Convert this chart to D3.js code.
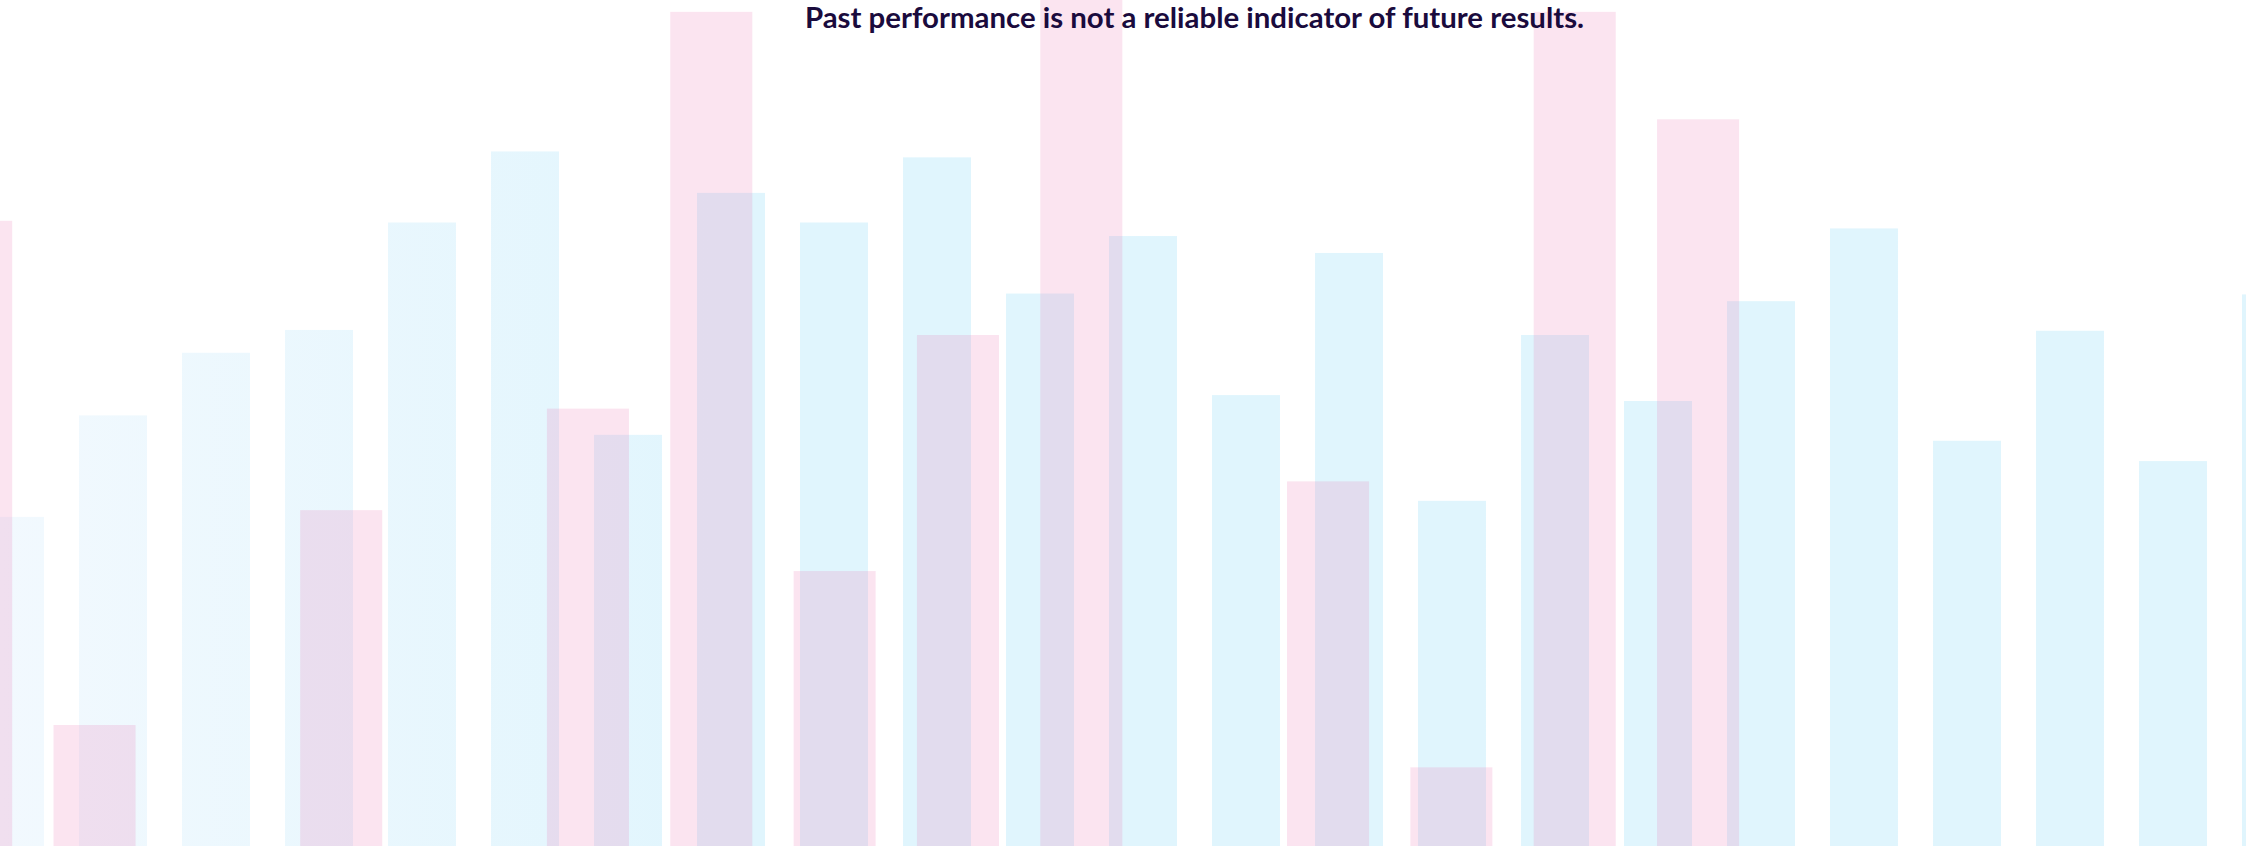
<!DOCTYPE html>
<html>
<head>
<meta charset="utf-8">
<script src="https://cdn.jsdelivr.net/npm/d3@7"></script>
<style>
  html, body { margin: 0; padding: 0; background: #fff; overflow: hidden; }
  svg { display: block; }
</style>
</head>
<body>
<div id="chart"></div>
<script>
// bar heights, as % of the chart height
const blueValues = [38.9, 50.9, 58.3, 61.0, 73.7, 82.1, 48.6, 77.2, 73.7, 81.4, 65.3, 72.1,
                    53.3, 70.1, 40.8, 60.4, 52.6, 64.4, 73.0, 47.9, 60.9, 45.5, 65.2];
const pinkValues = [73.9, 14.3, 0, 39.7, 0, 51.7, 98.6, 32.5, 60.4, 103, 0, 43.1,
                    9.3, 98.6, 85.9, 0, 0, 0, 0];
const caption = "Past performance is not a reliable indicator of future results.";

document.addEventListener("DOMContentLoaded", function () {
    const width = 2246,
          height = 846;

    const svg = d3.select("#chart").append("svg")
        .attr("width", width)
        .attr("height", height)
        .attr("viewBox", `0 0 ${width} ${height}`);

    // blue bars fade out a little towards the left edge
    const grad = svg.append("defs").append("linearGradient")
        .attr("id", "blueFade")
        .attr("gradientUnits", "userSpaceOnUse")
        .attr("x1", 0).attr("x2", 750)
        .attr("y1", 0).attr("y2", 0);
    grad.append("stop").attr("offset", 0).attr("stop-color", "#f2f9fe");
    grad.append("stop").attr("offset", 1).attr("stop-color", "#e0f5fd");

    const y = d3.scaleLinear()
        .domain([0, 100])
        .range([height, 0]);

    const xBlue = d3.scaleBand()
        .domain(d3.range(blueValues.length))
        .range([-41.5, -41.5 + blueValues.length * 103])
        .paddingInner(0.34)
        .paddingOuter(0.17);

    const xPink = d3.scaleBand()
        .domain(d3.range(pinkValues.length))
        .range([-90.5, -90.5 + pinkValues.length * 123.35])
        .paddingInner(0.335)
        .paddingOuter(0.1675);

    svg.append("g")
        .selectAll("rect")
        .data(blueValues)
        .join("rect")
        .attr("x", (d, i) => xBlue(i))
        .attr("width", xBlue.bandwidth())
        .attr("y", d => y(d))
        .attr("height", d => height - y(d))
        .attr("fill", "url(#blueFade)");

    svg.append("g")
        .attr("fill-opacity", 0.19)
        .selectAll("rect")
        .data(pinkValues)
        .join("rect")
        .attr("x", (d, i) => xPink(i))
        .attr("width", xPink.bandwidth())
        .attr("y", d => y(d))
        .attr("height", d => height - y(d))
        .attr("fill", "#ea71b0");

    svg.append("text")
        .attr("x", 1194.5)
        .attr("y", 28)
        .attr("text-anchor", "middle")
        .style("font-family", "Lato, 'Open Sans', sans-serif")
        .style("font-weight", 700)
        .style("font-size", "29.4px")
        .style("fill", "#1a0b3d")
        .text(caption);
});
</script>
</body>
</html>
